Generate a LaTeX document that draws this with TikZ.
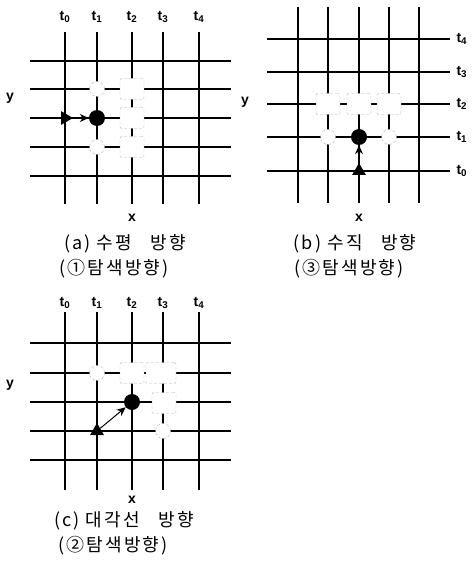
\documentclass[tikz,border=0pt]{standalone}
\usepackage{fontspec}
\setmainfont{Liberation Sans}
\newfontfamily\kofont[LetterSpace=12]{Noto Sans CJK KR}
\usetikzlibrary{arrows.meta, shapes.geometric}

\begin{document}
\begin{tikzpicture}[x=1pt, y=-1pt,
    gridline/.style={line width=1.4pt, black},
    candbox/.style={rectangle, rounded corners=2pt, fill=white, draw=black!30,
                    densely dashed, line width=0.4pt, minimum width=24pt,
                    minimum height=21pt, inner sep=0pt},
    candcirc/.style={circle, fill=white, draw=black!30, densely dashed,
                     line width=0.4pt, minimum size=15pt, inner sep=0pt},
    curdot/.style={circle, fill=black, minimum size=16pt, inner sep=0pt},
    startmark/.style={isosceles triangle, isosceles triangle apex angle=60,
                      fill=black, minimum size=12pt, inner sep=0pt},
    arrow/.style={-{Stealth[length=9pt, width=8pt]}, line width=1pt},
    tlbl/.style={font=\fontsize{14}{15}\selectfont\bfseries},
    axlbl/.style={font=\fontsize{14}{15}\selectfont\bfseries},
    captxt/.style={font=\kofont\fontsize{18}{20}\selectfont}
]
    \useasboundingbox (0,0) rectangle (471,564);
    % (a)
    \foreach \x/\i in {65/0, 97/1, 132/2, 163/3, 199/4} {
        \draw[gridline] (\x,32) -- (\x,204);
        \node[tlbl] (at\i) at (\x,17) {t\textsubscript{\i}};
    }
    \foreach \y in {61, 89, 118, 147, 176}
        \draw[gridline] (30,\y) -- (231,\y);
    \node[axlbl] (ay) at (10,98) {y};
    \node[axlbl] (ax) at (132,218) {x};
    \node[candcirc] (ac1) at (97,89) {};
    \node[candcirc] (ac2) at (97,147) {};
    \node[candbox] (ab1) at (132,89) {};
    \node[candbox] (ab2) at (132,118) {};
    \node[candbox] (ab3) at (132,147) {};
    \node[startmark] (aStart) at (65,118) {};
    \node[curdot] (aCur) at (97,118) {};
    \draw[arrow] (aStart) -- (aCur);
    \node[captxt] (acap1) at (125,244) {(a)\ 수평\ \ \ 방향};
    \node[captxt] (acap2) at (114,269) {(①탐색방향)};
    % (b)
    \foreach \x in {298, 328, 359, 389, 419}
        \draw[gridline] (\x,7) -- (\x,203);
    \foreach \y/\i in {171/0, 137/1, 104/2, 72/3, 39/4} {
        \draw[gridline] (267,\y) -- (450,\y);
        \node[tlbl, anchor=west] (bt\i) at (453,\y) {t\textsubscript{\i}};
    }
    \node[axlbl] (by) at (245,102) {y};
    \node[axlbl] (bx) at (359,218) {x};
    \node[candcirc] (bc1) at (328,137) {};
    \node[candcirc] (bc2) at (389,137) {};
    \node[candbox] (bb1) at (328,104) {};
    \node[candbox] (bb2) at (359,104) {};
    \node[candbox] (bb3) at (389,104) {};
    \node[startmark, shape border rotate=90] (bStart) at (359,171) {};
    \node[curdot] (bCur) at (359,137) {};
    \draw[arrow] (bStart) -- (bCur);
    \node[captxt] (bcap1) at (355,244) {(b)\ 수직\ \ \ 방향};
    \node[captxt] (bcap2) at (349,269) {(③탐색방향)};
    % (c)
    \foreach \x/\i in {65/0, 97/1, 132/2, 163/3, 199/4} {
        \draw[gridline] (\x,312) -- (\x,490);
        \node[tlbl] (ct\i) at (\x,303) {t\textsubscript{\i}};
    }
    \foreach \y in {343, 373, 402, 431, 460}
        \draw[gridline] (30,\y) -- (231,\y);
    \node[axlbl] (cy) at (10,385) {y};
    \node[axlbl] (cx) at (132,500) {x};
    \node[candcirc] (cc1) at (97,373) {};
    \node[candbox] (cb1) at (132,373) {};
    \node[candbox, minimum width=30pt] (cb2) at (161,373) {};
    \node[candbox] (cb3) at (164,403) {};
    \node[candcirc] (cc2) at (163,431) {};
    \node[startmark, shape border rotate=45] (cStart) at (97,431) {};
    \node[curdot] (cCur) at (132,402) {};
    \draw[arrow] (cStart) -- (cCur);
    \node[captxt] (ccap1) at (124,521) {(c)\ 대각선\ \ \ 방향};
    \node[captxt] (ccap2) at (113,546) {(②탐색방향)};
\end{tikzpicture}
\end{document}
